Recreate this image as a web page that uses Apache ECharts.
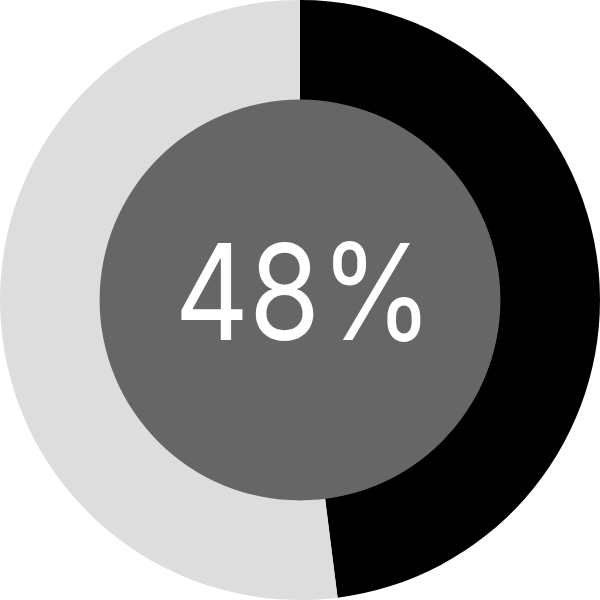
<!DOCTYPE html>
<html>
<head>
<meta charset="utf-8">
<script src="https://cdn.jsdelivr.net/npm/echarts@6/dist/echarts.min.js"></script>
<style>html,body{margin:0;padding:0;background:#fff}#c{width:600px;height:600px}</style>
</head>
<body>
<div id="c"></div>
<script>
var categories = ['Done', 'Remaining'];
var values = [48, 52];
var labelText = '48%';

var chart = echarts.init(document.getElementById('c'));
chart.setOption({
  animation: false,
  graphic: [{
    type: 'text',
    x: 304,
    y: 300,
    scaleY: 1.16,
    z: 100,
    style: {
      text: labelText,
      fill: '#ffffff',
      font: '400 115px "Inter"',
      textAlign: 'center',
      textVerticalAlign: 'middle'
    }
  }],
  series: [
    {
      type: 'pie',
      radius: ['66.6%', '100%'],
      center: ['50%', '50%'],
      startAngle: 90,
      clockwise: true,
      silent: true,
      label: { show: false },
      labelLine: { show: false },
      itemStyle: { borderWidth: 0 },
      data: categories.map(function (c, i) {
        return { name: c, value: values[i], itemStyle: { color: i === 0 ? '#000000' : '#dddddd' } };
      })
    },
    {
      type: 'pie',
      radius: [0, '66.8%'],
      center: ['50%', '50%'],
      silent: true,
      label: { show: false },
      labelLine: { show: false },
      itemStyle: { color: '#666666', borderWidth: 0 },
      data: [{ name: 'center', value: 1 }]
    }
  ]
});
</script>
</body>
</html>
